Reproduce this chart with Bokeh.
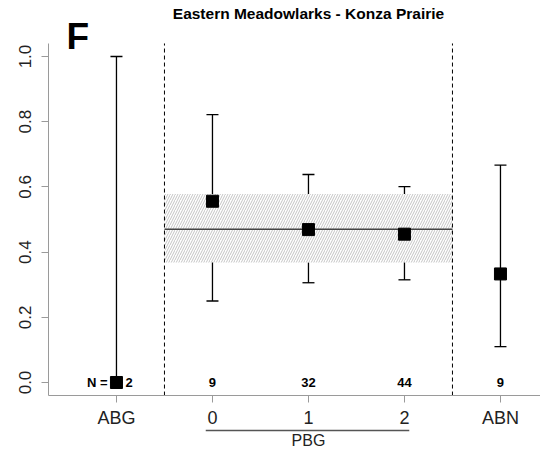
import numpy as np
from bokeh.plotting import figure
from bokeh.models import (ColumnDataSource, Whisker, TeeHead, FixedTicker, Range1d)
from bokeh.core.properties import value
from bokeh.embed import file_html
from bokeh.resources import INLINE

# ---- data ----
groups = ["ABG", "0", "1", "2", "ABN"]
means = [0.0, 0.556, 0.469, 0.455, 0.333]
lower = [0.0, 0.25, 0.306, 0.315, 0.110]
upper = [1.0, 0.822, 0.638, 0.601, 0.667]
n_obs = [2, 9, 32, 44, 9]
pbg_mean = 0.470
pbg_lower = 0.368
pbg_upper = 0.578
y_ticks = [0.0, 0.2, 0.4, 0.6, 0.8, 1.0]
title_text = "Eastern Meadowlarks - Konza Prairie"
panel_letter = "F"
bracket_label = "PBG"

FONT = "Liberation Sans"
xpos = list(np.arange(len(groups)) - 1)  # ABG=-1, 0,1,2, ABN=3
pbg_idx = [1, 2, 3]
band_left = xpos[pbg_idx[0]] - 0.5
band_right = xpos[pbg_idx[-1]] + 0.5

# axis extents (R-style 4% padding)
y_lo, y_hi = -0.04, 1.04
x_lo, x_hi = -1.708, 3.417

src = ColumnDataSource(dict(x=xpos, mean=means, lower=lower, upper=upper))

p = figure(width=540, height=450, output_backend="svg", toolbar_location=None,
           x_range=Range1d(-2.208, x_hi), y_range=Range1d(-0.2086, 1.1718),
           min_border=0)
p.outline_line_color = None
p.xgrid.visible = False
p.ygrid.visible = False
p.background_fill_color = "white"
p.border_fill_color = "white"

# band with hatch
p.quad(left=[band_left], right=[band_right], bottom=[pbg_lower], top=[pbg_upper],
       fill_color="white", line_color=None, hatch_pattern="/",
       hatch_color="#c4c4c4", hatch_scale=5, hatch_weight=1)
p.segment(x0=[band_left], x1=[band_right], y0=[pbg_mean], y1=[pbg_mean],
          line_color="#444444", line_width=1.5)

# dashed separators
p.segment(x0=[band_left, band_right], x1=[band_left, band_right],
          y0=[y_lo, y_lo], y1=[y_hi, y_hi], line_color="black",
          line_dash="4 3", line_width=1)

wh = Whisker(base="x", lower="lower", upper="upper", source=src, dimension="height",
             line_color="black", line_width=1.3,
             upper_head=TeeHead(size=12, line_color="black", line_width=1.3),
             lower_head=TeeHead(size=12, line_color="black", line_width=1.3))
p.add_layout(wh)
p.scatter(x="x", y="mean", source=src, marker="square", size=12, color="black")

# N labels
src_n = ColumnDataSource(dict(x=xpos[1:], y=[0.0] * (len(groups) - 1),
                              t=[str(v) for v in n_obs[1:]]))
p.text(x="x", y="y", text="t", source=src_n, text_font=value(FONT),
       text_font_style="bold", text_font_size="13px", text_align="center",
       text_baseline="middle", text_color="black")
p.text(x=[xpos[0]], y=[0.0], text=[str(n_obs[0])], x_offset=9, text_font=value(FONT),
       text_font_style="bold", text_font_size="13px", text_align="left",
       text_baseline="middle", text_color="black")
p.text(x=[xpos[0]], y=[0.0], text=["N ="], x_offset=-9, text_font=value(FONT),
       text_font_style="bold", text_font_size="13px", text_align="right",
       text_baseline="middle", text_color="black")

# axes styling (R-like, axes at fixed positions)
ax_color = "#9a9a9a"
p.yaxis.fixed_location = x_lo
p.yaxis.bounds = (y_lo, y_hi)
p.yaxis.ticker = FixedTicker(ticks=y_ticks)
p.yaxis.major_label_overrides = {t: f"{t:.1f}" for t in y_ticks}
p.yaxis.major_label_orientation = "vertical"
p.yaxis.major_label_text_font = FONT
p.yaxis.major_label_text_font_size = "17px"
p.yaxis.major_label_text_color = "#222222"
p.yaxis.major_label_standoff = 10
p.yaxis.major_tick_out = 7
p.yaxis.major_tick_in = 0
p.yaxis.minor_tick_line_color = None
p.yaxis.axis_line_color = ax_color
p.yaxis.major_tick_line_color = ax_color

p.xaxis.fixed_location = y_lo
p.xaxis.bounds = (x_lo, x_hi)
p.xaxis.ticker = FixedTicker(ticks=xpos)
p.xaxis.major_label_overrides = {int(x): g for x, g in zip(xpos, groups)}
p.xaxis.major_label_text_font = FONT
p.xaxis.major_label_text_font_size = "18px"
p.xaxis.major_label_text_color = "#222222"
p.xaxis.major_label_standoff = 5
p.xaxis.major_tick_out = 7
p.xaxis.major_tick_in = 0
p.xaxis.minor_tick_line_color = None
p.xaxis.axis_line_color = ax_color
p.xaxis.major_tick_line_color = ax_color

# bracket under PBG ticks + label
p.segment(x0=[xpos[pbg_idx[0]] - 0.07], x1=[xpos[pbg_idx[-1]] + 0.05],
          y0=[-0.147], y1=[-0.147], line_color="#555555", line_width=1.5)
p.text(x=[xpos[pbg_idx[1]]], y=[-0.178], text=[bracket_label], text_font=value(FONT),
       text_font_size="16px", text_align="center", text_baseline="middle",
       text_color="#222222")

# title and panel letter
p.text(x=[1.0], y=[1.1334], text=[title_text], text_font=value(FONT),
       text_font_size="15.5px", text_font_style="bold", text_align="center",
       text_baseline="middle", text_color="black")
p.text(x=[-1.521], y=[1.062], text=[panel_letter], text_font=value(FONT),
       text_font_size="37px", text_font_style="bold", text_align="left",
       text_baseline="middle", text_color="black")

open("out.html", "w").write(file_html(p, INLINE))
